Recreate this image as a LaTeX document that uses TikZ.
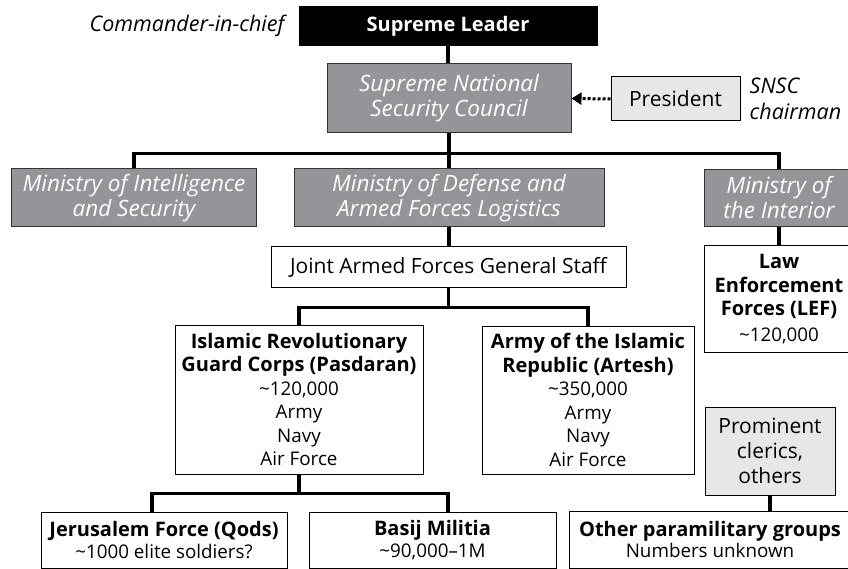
\documentclass[tikz,border=0pt]{standalone}
\usepackage{fontspec}
\setmainfont{Open Sans}
\usepackage{tikz}
\usetikzlibrary{positioning,arrows.meta}

\definecolor{ministrygray}{HTML}{939598}
\definecolor{palegray}{HTML}{E6E7E8}

\newcommand{\hd}[1]{{\fontsize{20}{24.5}\selectfont\bfseries #1}}

\tikzset{
  unit/.style={draw=black, line width=1pt, fill=white, align=center, inner sep=0pt,
    font=\fontsize{18.8}{23.5}\selectfont},
  label/.style={unit, font=\fontsize{21}{25}\selectfont},
  ministry/.style={unit, draw=black!80, fill=ministrygray, text=white,
    font=\fontsize{22.5}{25}\selectfont\itshape},
  note/.style={align=left, inner sep=0pt, font=\fontsize{21.5}{26}\selectfont\itshape},
  link/.style={line width=3.8pt},
}

\begin{document}
\begin{tikzpicture}[x=1pt, y=-1pt]
      \useasboundingbox (0,0) rectangle (848,569);
      \clip (0,0) rectangle (848,569);

      \node[unit, fill=black, text=white, minimum width=298, minimum height=39,
        font=\fontsize{20}{24}\selectfont\bfseries] (leader) at (448,26) {Supreme Leader};
      \node[note, left=14pt of leader] (cinc) {Commander-in-chief};

      \node[ministry, minimum width=244, minimum height=69] (snsc) at (449,98.5)
        {Supreme National\\Security Council};
      \node[label, fill=palegray, minimum width=129, minimum height=44] (president) at (675.5,99) {President};
      \node[note, right=9pt of president] (chair) {SNSC\\chairman};

      \node[ministry, minimum width=245, minimum height=58] (mis) at (134,198)
        {Ministry of Intelligence\\and Security};
      \node[ministry, minimum width=310, minimum height=58] (mod) at (449,198)
        {Ministry of Defense and\\Armed Forces Logistics};
      \node[ministry, minimum width=150, minimum height=57] (moi) at (779,198)
        {Ministry of\\the Interior};

      \node[label, minimum width=355, minimum height=40] (joint) at (448.5,267) {Joint Armed Forces General Staff};
      \node[unit, minimum width=150, minimum height=106] (lef) at (779,299)
        {\hd{Law}\\\hd{Enforcement}\\\hd{Forces (LEF)}\\[2pt]\textasciitilde120,000};

      \node[unit, minimum width=248, minimum height=149] (irgc) at (299,399.5)
        {\hd{Islamic Revolutionary}\\\hd{Guard Corps (Pasdaran)}\\\textasciitilde120,000\\Army\\Navy\\Air Force};
      \node[unit, minimum width=212, minimum height=148] (artesh) at (588,400)
        {\hd{Army of the Islamic}\\\hd{Republic (Artesh)}\\\textasciitilde350,000\\Army\\Navy\\Air Force};
      \node[label, fill=palegray, minimum width=130, minimum height=88] (clerics) at (770,451) {Prominent\\clerics,\\others};

      \node[unit, minimum width=246, minimum height=56] (qods) at (164,540)
        {\hd{Jerusalem Force (Qods)}\\[-2pt]\textasciitilde1000 elite soldiers?};
      \node[unit, minimum width=247, minimum height=56] (basij) at (432.5,540)
        {\hd{Basij Militia}\\[-2pt]\textasciitilde90,000--1M};
      \node[unit, minimum width=282, minimum height=57] (other) at (710,539.5)
        {\hd{Other paramilitary groups}\\[-2pt]Numbers unknown};

      \draw[link] (leader.south) -- (leader.south |- snsc.north);
      \draw[line width=3pt, dash pattern=on 3pt off 2pt,
        -{Triangle[length=10pt,width=12pt]}] (president.west) -- (snsc.east);

      \draw[link] (snsc.south) -- ++(0,20) coordinate (ministries);
      \draw[link] (mis.north) |- (ministries) -| (moi.north);
      \draw[link] (ministries) -- (ministries |- mod.north);
      \draw[link] (mod.south) -- (mod.south |- joint.north);
      \draw[link] (moi.south) -- (lef.north);

      \draw[link] (joint.south) -- ++(0,20) coordinate (forces);
      \draw[link] (irgc.north) |- (forces) -| (artesh.north);

      \draw[link] (irgc.south) -- ++(0,19) coordinate (branches);
      \draw[link] ([xshift=-12pt]qods.north) |- (branches) -| ([xshift=15.5pt]basij.north);
      \draw[link] (clerics.south) -- (clerics.south |- other.north);
    \end{tikzpicture}
\end{document}
